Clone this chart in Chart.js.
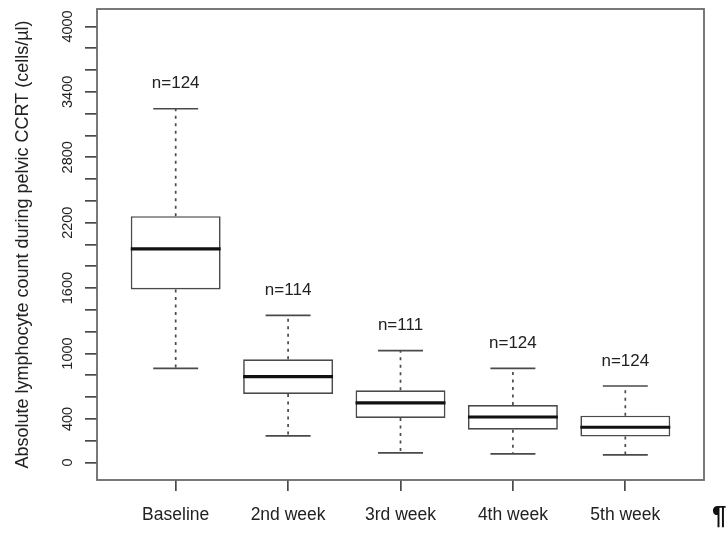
<!DOCTYPE html>
<html>
<head>
<meta charset="utf-8">
<script src="https://cdn.jsdelivr.net/npm/chart.js@4.4.0/dist/chart.umd.min.js"></script>
<style>
  body { margin: 0; background: #fff; }
  #wrap { position: relative; width: 728px; height: 541px; }
  #pil { position: absolute; left: 712px; top: 500px; font: bold 26px "Liberation Sans", Arial, sans-serif; color: #111; }
</style>
</head>
<body>
<div id="wrap">
  <canvas id="myChart" width="728" height="541"></canvas>
  <span id="pil">¶</span>
</div>
<script>
// box plot values (cells/µl)
const categories = ["Baseline", "2nd week", "3rd week", "4th week", "5th week"];
const whiskerLow = [864, 245, 89, 80, 71];
const q1 = [1588, 629, 409, 302, 238];
const median = [1960, 788, 547, 418, 324];
const q3 = [2260, 947, 663, 528, 430];
const whiskerHigh = [3245, 1350, 1026, 864, 702];
const counts = [124, 114, 111, 124, 124];
const yTickLabels = [0, 400, 1000, 1600, 2200, 2800, 3400, 4000];

const textColor = "#222";
const lineColor = "#4a4a4a";
const fontFam = "'Liberation Sans', Arial, sans-serif";

const boxParts = {
    id: "boxParts",
    afterDatasetsDraw(chart) {
        const ctx = chart.ctx;
        const x = chart.scales.x, y = chart.scales.y;
        const bars = chart.getDatasetMeta(0).data;
        ctx.save();
        for (let i = 0; i < categories.length; i++) {
            const cx = x.getPixelForValue(i + 1);
            const w = bars[i].width;
            const yLo = y.getPixelForValue(whiskerLow[i]);
            const yHi = y.getPixelForValue(whiskerHigh[i]);
            const yQ1 = y.getPixelForValue(q1[i]);
            const yQ3 = y.getPixelForValue(q3[i]);
            const yMed = y.getPixelForValue(median[i]);

            // dotted whiskers
            ctx.strokeStyle = lineColor;
            ctx.lineWidth = 1.7;
            ctx.setLineDash([3, 4.5]);
            ctx.beginPath();
            ctx.moveTo(cx, yQ3); ctx.lineTo(cx, yHi);
            ctx.moveTo(cx, yQ1); ctx.lineTo(cx, yLo);
            ctx.stroke();
            ctx.setLineDash([]);

            // caps
            ctx.beginPath();
            ctx.moveTo(cx - w / 4, yHi); ctx.lineTo(cx + w / 4, yHi);
            ctx.moveTo(cx - w / 4, yLo); ctx.lineTo(cx + w / 4, yLo);
            ctx.stroke();

            // median
            ctx.strokeStyle = "#111";
            ctx.lineWidth = 3.2;
            ctx.beginPath();
            ctx.moveTo(cx - w / 2, yMed); ctx.lineTo(cx + w / 2, yMed);
            ctx.stroke();

            // n labels
            ctx.fillStyle = textColor;
            ctx.font = "17px " + fontFam;
            ctx.textAlign = "center";
            ctx.textBaseline = "middle";
            ctx.fillText("n=" + counts[i], cx, yHi - 25);
        }
        ctx.restore();
    },
    afterDraw(chart) {
        const ctx = chart.ctx;
        const a = chart.chartArea;
        const y = chart.scales.y;
        ctx.save();
        ctx.strokeStyle = "#6a6a6a";
        ctx.lineWidth = 1.8;
        ctx.strokeRect(a.left, a.top, a.right - a.left, a.bottom - a.top);

        // rotated y tick labels like R
        ctx.fillStyle = textColor;
        ctx.font = "14.5px " + fontFam;
        ctx.textAlign = "center";
        ctx.textBaseline = "alphabetic";
        yTickLabels.forEach(v => {
            ctx.save();
            ctx.translate(72, y.getPixelForValue(v));
            ctx.rotate(-Math.PI / 2);
            ctx.fillText(String(v), 0, 0);
            ctx.restore();
        });
        ctx.restore();
    }
};

new Chart("myChart", {
    type: "bar",
    data: {
        datasets: [{
            data: categories.map((c, i) => ({ x: i + 1, y: [q1[i], q3[i]] })),
            backgroundColor: "#fff",
            borderColor: lineColor,
            borderWidth: 1.7,
            borderSkipped: false,
            barPercentage: 0.8,
            categoryPercentage: 1
        }]
    },
    options: {
        responsive: false,
        animation: false,
        layout: { padding: { left: 0, right: 24, top: 9, bottom: 0 } },
        plugins: { legend: { display: false }, tooltip: { enabled: false } },
        scales: {
            x: {
                type: "linear",
                min: 0.3,
                max: 5.7,
                offset: false,
                afterBuildTicks: s => { s.ticks = categories.map((c, i) => ({ value: i + 1 })); },
                afterFit: s => { s.height = 61; },
                ticks: {
                    callback: v => categories[v - 1],
                    font: { size: 17.5, family: fontFam },
                    color: textColor,
                    padding: 14,
                    maxRotation: 0,
                    autoSkip: false
                },
                grid: { offset: false, drawOnChartArea: false, drawTicks: true, tickLength: 11, color: lineColor, lineWidth: 1.7 },
                border: { display: false }
            },
            y: {
                min: -160,
                max: 4160,
                afterBuildTicks: s => { s.ticks = s.ticks.filter(t => t.value >= 0 && t.value <= 4000); },
                afterFit: s => { s.width = 97; },
                ticks: { stepSize: 200, display: false },
                grid: { drawOnChartArea: false, drawTicks: true, tickLength: 12, color: lineColor, lineWidth: 1.7 },
                border: { display: false },
                title: {
                    display: true,
                    text: "Absolute lymphocyte count during pelvic CCRT (cells/µl)",
                    font: { size: 18, family: fontFam },
                    color: textColor,
                    padding: { top: 12, bottom: 0 }
                }
            }
        }
    },
    plugins: [boxParts]
});
</script>
</body>
</html>
